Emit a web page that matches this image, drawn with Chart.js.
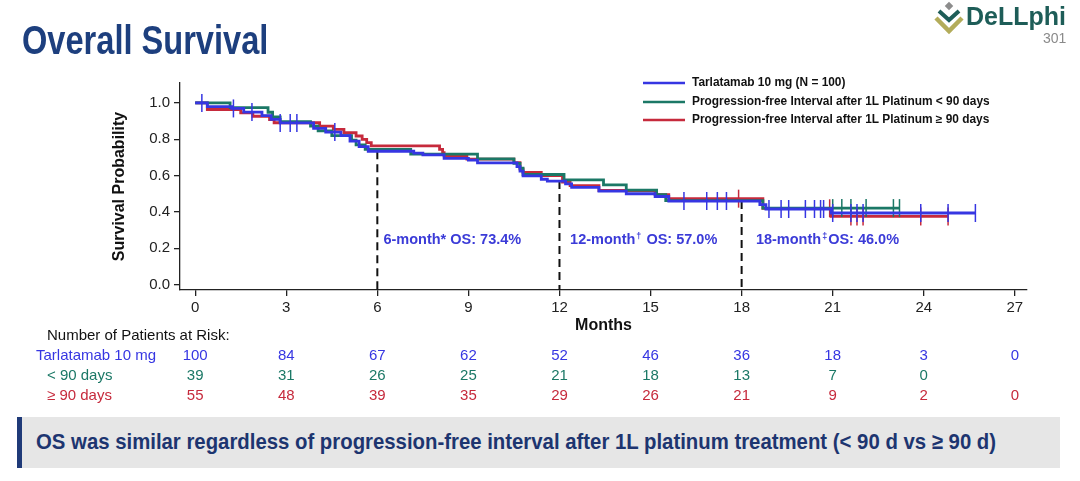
<!DOCTYPE html>
<html>
<head>
  <title>Overall Survival - DeLLphi-301</title>
  <script src="https://cdn.jsdelivr.net/npm/chart.js"></script>
  <style>
    body { margin:0; width:1080px; height:481px; position:relative; overflow:hidden; background:#fff; font-family:"Liberation Sans", Arial, sans-serif; }
    canvas { position:absolute; left:0; top:0; }
    #title { position:absolute; left:22px; top:20px; font-size:40px; line-height:40px; font-weight:bold; color:#1d3f7e; transform-origin:0 0; white-space:nowrap; }
    #logo { position:absolute; left:933px; top:1px; }
    .brand { position:absolute; left:966px; top:4px; font-size:25px; line-height:25px; font-weight:bold; color:#1e5d58; white-space:nowrap; }
    .brandnum { position:absolute; left:1043px; top:31px; font-size:14px; line-height:14px; color:#8a8a8a; }
    #banner { position:absolute; left:17px; top:417px; width:1043px; height:51px; background:#e6e6e6; border-left:5px solid #1f3a78; box-sizing:border-box; }
    #banner span { position:absolute; left:14px; top:13px; font-size:22px; line-height:24px; font-weight:bold; color:#1d3570; white-space:nowrap; transform-origin:0 0; }
  </style>
</head>
<body>

  <canvas id="km" width="1080" height="481"></canvas>

  <div id="title">Overall Survival</div>

  <svg id="logo" width="32" height="34" viewBox="0 0 32 34">
    <rect x="13" y="2" width="6" height="6" fill="#8c8c8c" transform="rotate(45 16 5)"/>
    <polyline points="6,10 16,19 26,10" fill="none" stroke="#1e5d58" stroke-width="4"/>
    <polyline points="3,17 16,30 29,17" fill="none" stroke="#b3ac5a" stroke-width="4.5"/>
  </svg>
  <div class="brand">DeLLphi</div>
  <div class="brandnum">301</div>

  <div id="banner"><span id="bannerText">OS was similar regardless of progression-free interval after 1L platinum treatment (&lt; 90 d vs &#8805; 90 d)</span></div>

  <script>
    // axis ticks
    const xTicks = [0, 3, 6, 9, 12, 15, 18, 21, 24, 27];
    const yTicks = [0, 0.2, 0.4, 0.6, 0.8, 1.0];

    // KM step points (month, survival)
    const tarlaT = [0, 0.4, 1.2, 1.6, 2.2, 2.5, 2.8, 3.9, 4.3, 4.8, 5.1, 5.4, 5.7, 7.2, 7.5, 8.2, 9.0, 9.3, 10.6, 10.7, 10.8, 11.4, 11.6, 12.2, 12.4, 13.3, 14.2, 15.15, 15.6, 18.6, 18.8, 20.95, 25.7];
    const tarlaS = [1.0, 0.98, 0.97, 0.95, 0.93, 0.91, 0.89, 0.86, 0.84, 0.82, 0.79, 0.76, 0.734, 0.724, 0.714, 0.695, 0.685, 0.67, 0.65, 0.625, 0.598, 0.58, 0.57, 0.555, 0.535, 0.515, 0.5, 0.485, 0.46, 0.44, 0.416, 0.394, 0.394];

    const lt90T = [0, 1.15, 2.4, 2.55, 2.8, 3.8, 4.05, 4.5, 5.15, 5.3, 5.6, 7.1, 9.3, 10.5, 10.7, 10.8, 12.15, 13.45, 14.2, 15.2, 15.5, 18.7, 23.2];
    const lt90S = [1.0, 0.974, 0.949, 0.923, 0.897, 0.872, 0.846, 0.82, 0.795, 0.769, 0.744, 0.718, 0.692, 0.667, 0.641, 0.606, 0.577, 0.549, 0.52, 0.495, 0.462, 0.421, 0.421];

    const ge90T = [0, 0.4, 1.5, 1.9, 2.45, 2.6, 4.1, 4.55, 4.9, 5.3, 5.5, 5.65, 5.8, 8.05, 8.15, 8.2, 8.95, 10.5, 10.7, 10.8, 11.4, 12.1, 12.35, 13.3, 15.15, 15.6, 18.7, 20.95, 24.8];
    const ge90S = [1.0, 0.964, 0.945, 0.927, 0.909, 0.891, 0.873, 0.855, 0.836, 0.818, 0.8, 0.782, 0.764, 0.745, 0.727, 0.709, 0.691, 0.672, 0.636, 0.618, 0.6, 0.564, 0.545, 0.518, 0.495, 0.473, 0.42, 0.375, 0.375];

    // censoring marks (months)
    const tarlaCens = [0.22, 1.26, 1.87, 2.8, 3.13, 3.35, 4.6, 16.1, 16.85, 17.2, 17.5, 18.9, 19.3, 19.55, 20.1, 20.4, 20.6, 20.7, 21.0, 21.6, 21.8, 22.0, 23.9, 24.8, 25.7];
    const lt90Cens = [21.0, 21.3, 21.6, 22.1, 23.0, 23.2];
    const ge90Cens = [17.9, 20.9, 21.6, 21.8, 22.0, 23.9, 24.8];

    // landmark estimates
    const landmarkMonths = [6, 12, 18];
    const landmarkOS = [0.734, 0.570, 0.460];
    const landmarkLabelX = [6.2, 12.35, 18.47];
    const landmarkText = [['6-month* OS: 73.4%', '', ''], ['12-month', '\u2020', ' OS: 57.0%'], ['18-month', '\u2021', 'OS: 46.0%']];

    // numbers at risk
    const riskTitle = 'Number of Patients at Risk:';
    const riskLabels = ['Tarlatamab 10 mg', '< 90 days', '\u2265 90 days'];
    const riskTarla = [100, 84, 67, 62, 52, 46, 36, 18, 3, 0];
    const riskLt90 = [39, 31, 26, 25, 21, 18, 13, 7, 0, null];
    const riskGe90 = [55, 48, 39, 35, 29, 26, 21, 9, 2, 0];

    const seriesNames = ['Tarlatamab 10 mg (N = 100)', 'Progression-free Interval after 1L Platinum < 90 days', 'Progression-free Interval after 1L Platinum \u2265 90 days'];
    const BLUE = '#3636e2', GREEN = '#1b7866', RED = '#c62a3c', TEXTBLUE = '#3b3bd8';
    const colors = [BLUE, GREEN, RED];

    function pts(t, s) { return t.map((x, i) => ({ x: x, y: s[i] })); }
    function survAt(t, s, m) {
      let v = s[0];
      for (let i = 0; i < t.length; i++) if (t[i] <= m) v = s[i];
      return v;
    }
    function censPts(c, t, s) { return c.map(m => ({ x: m, y: survAt(t, s, m) })); }

    function curve(label, data, color) {
      return { label: label, data: data, showLine: true, stepped: true, borderColor: color, borderWidth: 2.8, pointRadius: 0, fill: false };
    }
    function marks(data, color) {
      return { data: data, showLine: false, pointStyle: 'line', rotation: 90, pointRadius: 9, borderWidth: 1.5, borderColor: color, backgroundColor: color };
    }

    const datasets = [
      curve(seriesNames[0], pts(tarlaT, tarlaS), BLUE),
      marks(censPts(tarlaCens, tarlaT, tarlaS), BLUE),
      curve(seriesNames[1], pts(lt90T, lt90S), GREEN),
      marks(censPts(lt90Cens, lt90T, lt90S), GREEN),
      curve(seriesNames[2], pts(ge90T, ge90S), RED),
      marks(censPts(ge90Cens, ge90T, ge90S), RED)
    ];
    landmarkMonths.forEach((m, i) => {
      datasets.push({ data: [{ x: m, y: landmarkOS[i] }, { x: m, y: -0.03 }], showLine: true, borderDash: [8, 5], borderWidth: 2, borderColor: '#111', pointRadius: 0 });
    });

    const extras = {
      id: 'extras',
      afterDraw(chart) {
        const ctx = chart.ctx, xs = chart.scales.x, ys = chart.scales.y;
        ctx.save();

        // legend
        ctx.font = 'bold 11.9px "Liberation Sans", Arial';
        ctx.textBaseline = 'middle';
        [83, 102, 120].forEach((y, i) => {
          ctx.strokeStyle = colors[i];
          ctx.lineWidth = 2.5;
          ctx.beginPath(); ctx.moveTo(643, y); ctx.lineTo(685, y); ctx.stroke();
          ctx.fillStyle = '#111';
          ctx.fillText(seriesNames[i], 692, y);
        });

        // landmark labels
        ctx.fillStyle = TEXTBLUE;
        landmarkText.forEach((parts, i) => {
          let x = xs.getPixelForValue(landmarkLabelX[i]);
          const y = ys.getPixelForValue(0.245);
          ctx.font = 'bold 14.5px "Liberation Sans", Arial';
          ctx.fillText(parts[0], x, y); x += ctx.measureText(parts[0]).width;
          if (parts[1]) {
            ctx.font = 'bold 9px "Liberation Sans", Arial';
            ctx.fillText(parts[1], x + 1, y - 4); x += ctx.measureText(parts[1]).width + 2;
            ctx.font = 'bold 14.5px "Liberation Sans", Arial';
            ctx.fillText(parts[2], x, y);
          }
        });

        // numbers at risk
        ctx.font = '15px "Liberation Sans", Arial';
        ctx.fillStyle = '#111';
        ctx.textAlign = 'left';
        ctx.fillText(riskTitle, 47, 336);
        const rows = [riskTarla, riskLt90, riskGe90];
        const rowY = [356, 376, 396];
        const rowX = [36, 47, 47];
        rows.forEach((row, r) => {
          ctx.fillStyle = colors[r];
          ctx.textAlign = 'left';
          ctx.fillText(riskLabels[r], rowX[r], rowY[r]);
          ctx.textAlign = 'center';
          row.forEach((n, i) => {
            if (n !== null) ctx.fillText(String(n), xs.getPixelForValue(xTicks[i]), rowY[r]);
          });
        });
        ctx.restore();
      }
    };

    new Chart(document.getElementById('km').getContext('2d'), {
      type: 'scatter',
      data: { datasets: datasets },
      options: {
        responsive: false,
        animation: false,
        events: [],
        layout: { padding: { left: 110, top: 83, right: 53, bottom: 146 } },
        plugins: { legend: { display: false }, tooltip: { enabled: false } },
        scales: {
          x: {
            type: 'linear', min: -0.5, max: 27.4,
            afterBuildTicks: axis => { axis.ticks = xTicks.map(v => ({ value: v })); },
            afterFit: axis => { axis.height = 45; },
            ticks: { color: '#222', font: { size: 15, family: '"Liberation Sans", Arial' }, padding: 3, maxRotation: 0 },
            grid: { drawOnChartArea: false, drawTicks: true, tickLength: 6, color: '#222', lineWidth: 1.3 },
            border: { display: true, color: '#222', width: 1.3 },
            title: { display: true, text: 'Months', color: '#111', padding: 0, font: { size: 16, weight: 'bold', family: '"Liberation Sans", Arial' } }
          },
          y: {
            type: 'linear', min: -0.03, max: 1.11,
            afterBuildTicks: axis => { axis.ticks = yTicks.map(v => ({ value: v })); },
            afterFit: axis => { axis.width = 70; },
            ticks: { color: '#222', font: { size: 15, family: '"Liberation Sans", Arial' }, padding: 4, callback: v => v.toFixed(1) },
            grid: { drawOnChartArea: false, drawTicks: true, tickLength: 6, color: '#222', lineWidth: 1.3 },
            border: { display: true, color: '#222', width: 1.3 },
            title: { display: true, text: 'Survival Probability', color: '#111', padding: 0, font: { size: 16, weight: 'bold', family: '"Liberation Sans", Arial' } }
          }
        }
      },
      plugins: [extras]
    });

    // condense title and banner text to the reference widths
    const title = document.getElementById('title');
    title.style.transform = 'scaleX(' + (246 / title.offsetWidth) + ')';
    const banner = document.getElementById('bannerText');
    banner.style.transform = 'scaleX(' + (960 / banner.offsetWidth) + ')';
  </script>

</body>
</html>
